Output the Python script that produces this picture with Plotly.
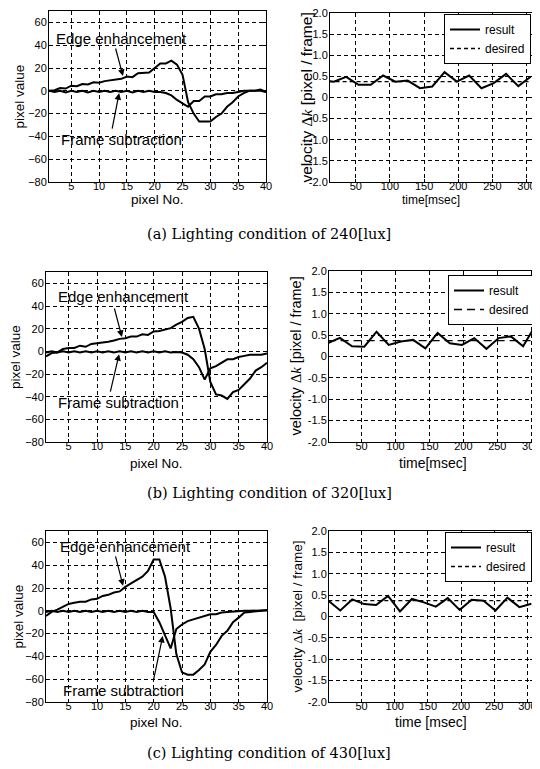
import plotly.graph_objects as go

# ---------------- data ----------------
pixel_no = list(range(1, 41))

edge_a = [0, 0.5, 2.5, 2, 4.5, 4, 6, 5.5, 7.5, 7, 8.5, 9, 10, 10.5, 12.5, 12, 15.5, 15.5, 16, 20,
          24, 24, 26.5, 23, 14, -10, -20, -27, -27, -27, -23, -20, -14, -10, -5, -2, 0, 0, 1, -1]
frame_a = [0, -1, 0, -1.5, 0, -1, 0, -1.5, 0, -1, 0, -1, 0, -1, 0, -1.5, 0, -1, 0, -1,
           -1, -2, -4, -8, -11, -14, -9, -9, -5, -5, -3, -3, -2, -2, -1, 0, 0, 0, 0, -1]

edge_b = [-4.5, -1.5, -1, 2, 3, 3, 5, 4, 6.5, 7, 7.5, 8.5, 9.5, 11, 11.5, 13, 13, 15, 14.5, 17.5,
          18, 19, 20.5, 23.5, 26, 29.5, 30.5, 20, 2, -27, -38, -39, -42, -36, -34, -29, -24, -17, -14, -10]
frame_b = [-1, 0, -1, 0, -1, 0, -1, 0, -1, 0, -1, 0, -1, 0, -1, 0, -1, 0, -1, 0,
           -1, 0, -1, -0.5, -1, -3, -7, -14, -25, -15, -13, -10, -7, -7, -5, -4, -3, -3, -3, -2]

edge_c = [-4.5, -1, 1, 3.5, 6, 7, 8, 8, 10, 10.5, 13, 14, 16, 17, 21, 24, 27, 30, 35, 45,
          45, 30, 2, -38, -54, -56, -56, -52, -47, -36, -30, -22, -17.5, -10, -6, -1.5, -1, -0.5, 0, 0.5]
frame_c = [-1, 0, -1, 0, -1, 0, -1, 0, -1, 0, -1, 0, -1, 0, -1, 0, -1, 0, -1, -1,
           -10, -22, -33, -16, -12, -9, -7.5, -6, -4.5, -3, -3, -1.5, -1, -0.5, 0, 0, 0, 0, 0.5, 0.5]

time_ms = [0, 18, 36, 54, 72, 90, 108, 126, 144, 162, 180, 198, 216, 234, 252, 270, 288, 306]
result_a = [0.41, 0.375, 0.49, 0.30, 0.30, 0.52, 0.375, 0.40, 0.22, 0.26, 0.60, 0.375, 0.52, 0.22,
            0.34, 0.56, 0.27, 0.49]
result_b = [0.31, 0.435, 0.24, 0.23, 0.58, 0.27, 0.35, 0.39, 0.19, 0.55, 0.31, 0.27, 0.43, 0.18,
            0.43, 0.47, 0.24, 0.72]
result_c = [0.37, 0.14, 0.40, 0.29, 0.27, 0.48, 0.12, 0.41, 0.33, 0.23, 0.43, 0.155, 0.39, 0.37,
            0.14, 0.44, 0.22, 0.30]
desired_a = [0.375, 0.375, 0.375, 0.375, 0.375, 0.375, 0.375, 0.375, 0.375, 0.375,
             0.375, 0.375, 0.375, 0.375, 0.375, 0.375, 0.375, 0.375]
desired_b = [0.37, 0.37, 0.37, 0.37, 0.37, 0.37, 0.37, 0.37, 0.37, 0.37, 0.37, 0.37, 0.37, 0.37,
             0.37, 0.37, 0.37, 0.37]
desired_c = [0.37, 0.37, 0.37, 0.37, 0.37, 0.37, 0.37, 0.37, 0.37, 0.37, 0.37, 0.37, 0.37, 0.37,
             0.37, 0.37, 0.37, 0.37]

left_yticks = [-80, -60, -40, -20, 0, 20, 40, 60]
left_xticks = [5, 10, 15, 20, 25, 30, 35, 40]
right_yticks = [-2.0, -1.5, -1.0, -0.5, 0, 0.5, 1.0, 1.5, 2.0]
right_yticklabels = ["-2.0", "-1.5", "-1.0", "-0.5", "0", "0.5", "1.0", "1.5", "2.0"]
right_xticks = [50, 100, 150, 200, 250, 300]

captions = ["(a) Lighting condition of 240[lux]",
            "(b) Lighting condition of 320[lux]",
            "(c) Lighting condition of 430[lux]"]
time_titles = ["time[msec]", "time[msec]", "time [msec]"]
velocity_titles = ["velocity <span style='font-family:Liberation Serif'>Δ<i>k</i></span> [pixel / frame]",
                   "velocity <span style='font-family:Liberation Serif'>Δ<i>k</i></span> [pixel / frame]",
                   "velocity <span style='font-family:Liberation Serif'>Δ<i>k</i></span>  [pixel / frame]"]

# ---------------- layout helpers ----------------
# the page body has an 8px default margin, so the figure is offset by 8px
OFF = 8
W, H = 540 - OFF, 769 - OFF
def PX(p):
    return (p - OFF) / W
def PY(p):
    return 1 - (p - OFF) / H

SANS = "Liberation Sans, Arial, sans-serif"
SERIF = "DejaVu Serif, serif"

# pixel boxes in page pixels (left, right, top, bottom)
left_boxes = [(49, 266, 11, 182), (46, 267, 272, 442), (46, 267, 531, 702)]
right_boxes = [(330, 532, 13, 182), (329, 536, 271, 442), (329, 533, 531, 702)]
right_xranges = [[12.3, 308], [2, 307], [1, 308.5]]
desired_dash = ["4px,3px", "8px,5px", "4px,3px"]

fig = go.Figure()
layout = dict(width=W, height=H, margin=dict(l=0, r=0, t=0, b=0, autoexpand=False),
              paper_bgcolor="white", plot_bgcolor="white", showlegend=True)

def axis_common(is_x):
    return dict(showline=True, linecolor="black", linewidth=1, mirror="ticks",
                ticks="inside", ticklen=3, tickcolor="black", tickwidth=1,
                showgrid=True, gridcolor="black", gridwidth=1, griddash="4px,3px",
                zeroline=False, automargin=False, ticklabeloverflow="allow",
                ticklabelstandoff=-6 if is_x else -1,
                tickfont=dict(family=SANS, size=11, color="black"))

edges = [edge_a, edge_b, edge_c]
frames = [frame_a, frame_b, frame_c]
results = [result_a, result_b, result_c]
desireds = [desired_a, desired_b, desired_c]

annotations = []
for i in range(3):
    li = 2 * i + 1
    ri = 2 * i + 2
    lb = left_boxes[i]
    rb = right_boxes[i]
    xa = dict(axis_common(True), domain=[PX(lb[0]), PX(lb[1])], range=[1, 40],
              tickvals=left_xticks, anchor="y%d" % li)
    ya = dict(axis_common(False), domain=[PY(lb[3]), PY(lb[2])], range=[-80, 70],
              tickvals=left_yticks, anchor="x%d" % li)
    xb = dict(axis_common(True), domain=[PX(rb[0]), PX(rb[1])], range=right_xranges[i],
              tickvals=right_xticks, anchor="y%d" % ri)
    yb = dict(axis_common(False), domain=[PY(rb[3]), PY(rb[2])], range=[-2, 2],
              tickvals=right_yticks, ticktext=right_yticklabels, anchor="x%d" % ri)
    layout["xaxis" if li == 1 else "xaxis%d" % li] = xa
    layout["yaxis" if li == 1 else "yaxis%d" % li] = ya
    layout["xaxis%d" % ri] = xb
    layout["yaxis%d" % ri] = yb

    lname = "legend" if i == 0 else "legend%d" % (i + 1)
    fig.add_trace(go.Scatter(x=pixel_no, y=edges[i], mode="lines", xaxis="x%d" % li, yaxis="y%d" % li,
                             line=dict(color="black", width=2), showlegend=False))
    fig.add_trace(go.Scatter(x=pixel_no, y=frames[i], mode="lines", xaxis="x%d" % li, yaxis="y%d" % li,
                             line=dict(color="black", width=2), showlegend=False))
    fig.add_trace(go.Scatter(x=time_ms, y=results[i], mode="lines", xaxis="x%d" % ri, yaxis="y%d" % ri,
                             name="result", legend=lname, line=dict(color="black", width=2)))
    fig.add_trace(go.Scatter(x=time_ms, y=desireds[i], mode="lines", xaxis="x%d" % ri, yaxis="y%d" % ri,
                             name="desired", legend=lname,
                             line=dict(color="black", width=1.3, dash=desired_dash[i])))
    layout[lname] = dict(x=PX(rb[1] - 1), y=PY(rb[2] + (4 if i == 1 else 1)), xanchor="right", yanchor="top",
                         bgcolor="white", bordercolor="black", borderwidth=1,
                         font=dict(family=SANS, size=12, color="black"),
                         itemwidth=30, tracegroupgap=0)

# axis titles
ytitle_left_x = [19, 15, 18]
ytitle_right_x = [306, 295, 297]
xtitle_y = [200, 463, 722]
right_title_size = [15.5, 14.5, 13.5]
time_title_size = [12, 14, 14]
caption_y = [234, 493, 753]
for i in range(3):
    lb = left_boxes[i]
    rb = right_boxes[i]
    annotations.append(dict(text="pixel value", textangle=-90, xref="paper", yref="paper",
                            x=PX(ytitle_left_x[i]), y=PY((lb[2] + lb[3]) / 2), showarrow=False,
                            xanchor="center", yanchor="middle",
                            font=dict(family=SANS, size=13.5, color="black")))
    annotations.append(dict(text="pixel No.", xref="paper", yref="paper",
                            x=PX((lb[0] + lb[1]) / 2), y=PY(xtitle_y[i]), showarrow=False,
                            xanchor="center", yanchor="middle",
                            font=dict(family=SANS, size=13.5, color="black")))
    annotations.append(dict(text=velocity_titles[i],
                            textangle=-90, xref="paper", yref="paper",
                            x=PX(ytitle_right_x[i]), y=PY((rb[2] + rb[3]) / 2), showarrow=False,
                            xanchor="center", yanchor="middle",
                            font=dict(family=SANS, size=right_title_size[i], color="black")))
    annotations.append(dict(text=time_titles[i], xref="paper", yref="paper",
                            x=PX((rb[0] + rb[1]) / 2), y=PY(xtitle_y[i]), showarrow=False,
                            xanchor="center", yanchor="middle",
                            font=dict(family=SANS, size=time_title_size[i], color="black")))
    annotations.append(dict(text=captions[i], xref="paper", yref="paper",
                            x=PX(269), y=PY(caption_y[i]), showarrow=False,
                            xanchor="center", yanchor="middle",
                            font=dict(family=SERIF, size=14.5, color="black")))

# curve labels with arrows (text centre in page px, arrow tail & head in data units)
labels = [
    ("Edge enhancement", 1, (121, 39), (12.9, 38.4), (14.3, 13)),
    ("Frame subtraction", 1, (121.5, 139), (12.3, -34.4), (13.6, -2)),
    ("Edge enhancement", 3, (123, 296.5), (13.0, 39.1), (14.4, 12.6)),
    ("Frame subtraction", 3, (118, 402.5), (12.3, -36.8), (13.9, -2.5)),
    ("Edge enhancement", 5, (125.5, 546.5), (13.2, 49), (14.6, 22)),
    ("Frame subtraction", 5, (123.5, 690), (19.9, -62.5), (21.6, -22)),
]
for txt, ax_i, cpos, tail, head in labels:
    annotations.append(dict(text=txt, xref="paper", yref="paper", x=PX(cpos[0]), y=PY(cpos[1]),
                            showarrow=False, xanchor="center", yanchor="middle",
                            font=dict(family=SANS, size=15, color="black")))
    xr = "x" if ax_i == 1 else "x%d" % ax_i
    yr = "y" if ax_i == 1 else "y%d" % ax_i
    annotations.append(dict(text="", xref=xr, yref=yr, x=head[0], y=head[1],
                            axref=xr, ayref=yr, ax=tail[0], ay=tail[1],
                            showarrow=True, arrowhead=2, arrowsize=1.1, arrowwidth=1.2,
                            arrowcolor="black", standoff=0, startstandoff=0))

layout["annotations"] = annotations
fig.update_layout(**layout)
fig.write_html("out.html")
